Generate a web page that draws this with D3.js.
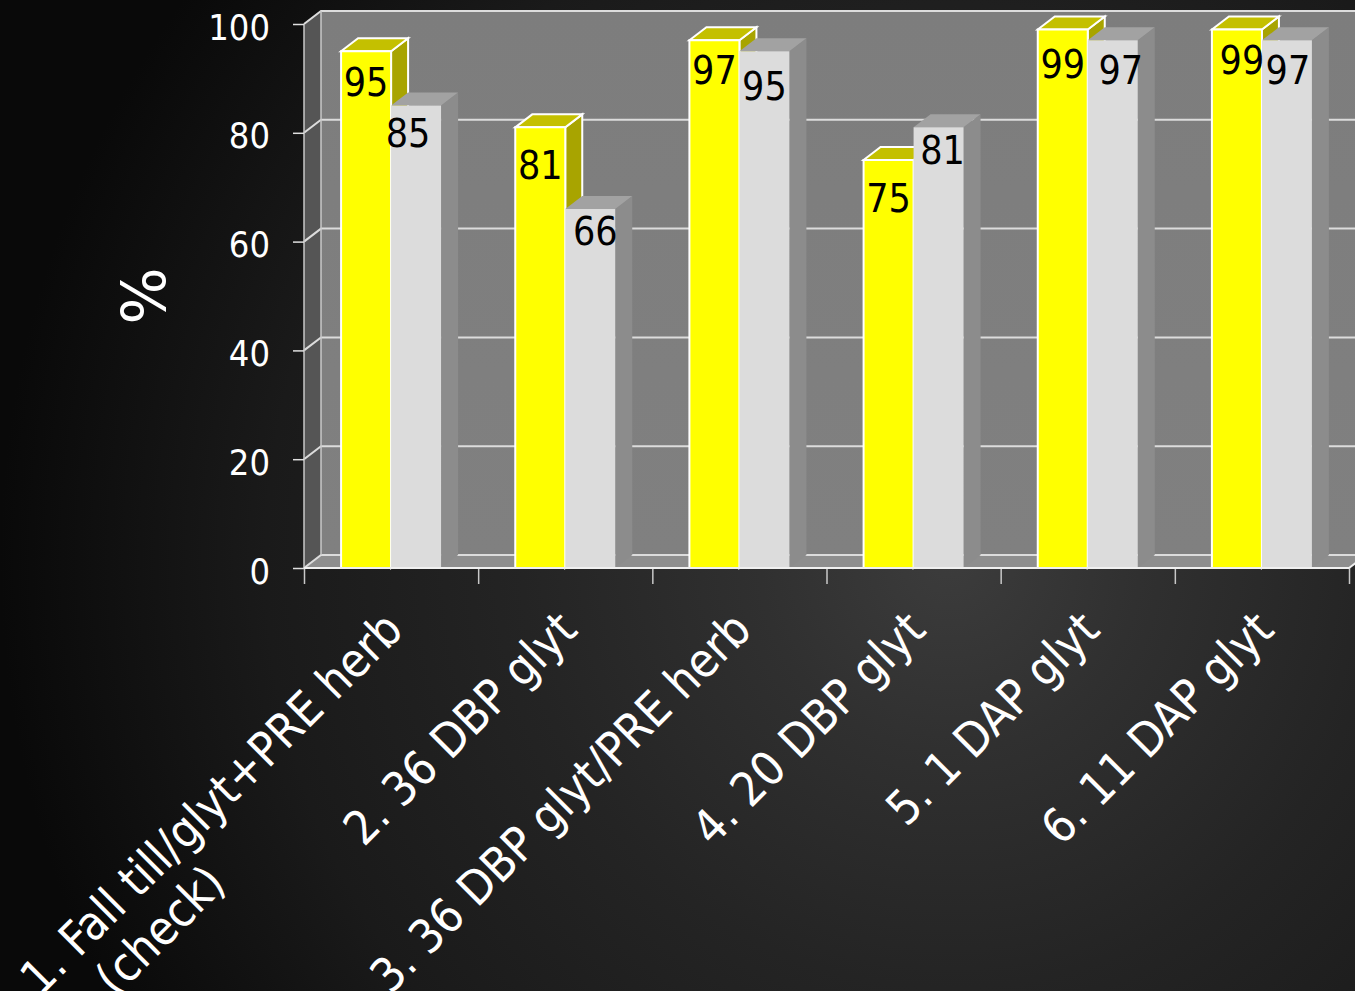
<!DOCTYPE html>
<html>
<head>
<meta charset="utf-8">
<style>
html,body{margin:0;padding:0;background:#000;overflow:hidden}
svg{display:block}
text{font-family:"DejaVu Sans Condensed","DejaVu Sans",sans-serif;font-stretch:condensed}
</style>
<script src="https://cdn.jsdelivr.net/npm/d3@7/dist/d3.min.js"></script>
</head>
<body>
<svg id="chart" width="1355" height="991"></svg>
<script>
// Chart content
const categories = ["1. Fall till/glyt+PRE herb|(check)", "2. 36 DBP glyt", "3. 36 DBP glyt/PRE herb", "4. 20 DBP glyt", "5. 1 DAP glyt", "6. 11 DAP glyt"];
const yellowValues = [95, 81, 97, 75, 99, 99];
const greyValues = [85, 66, 95, 81, 97, 97];
const yTicks = [0, 20, 40, 60, 80, 100];
const axisTitle = "%";

// Hand-placed value labels: offset from bar centre and from bar top
const yellowNudge = [[0, 31], [0, 38], [0, 30], [0, 38], [0, 35], [5, 31]];
const greyNudge = [[-8, 27], [5, 22], [0, 35], [4, 23], [8, 30], [1, 30]];

// Frame geometry
const W = 1355, H = 991;
const x0 = 304, x1 = 1349, yBase = 568, yTop = 24;
const dx = 17, dy = -13;          // oblique depth of the 3D box
const barWidth = 50;

const svg = d3.select("#chart");
const y = d3.scaleLinear().domain([0, 100]).range([yBase, yTop]);
const band = d3.scaleBand().domain(d3.range(categories.length)).range([x0, x1]);
const edge = d3.scaleLinear().domain([0, categories.length]).range([x0, x1]);

// Page background
const defs = svg.append("defs");
const bg = defs.append("radialGradient").attr("id", "bg")
  .attr("gradientUnits", "userSpaceOnUse")
  .attr("cx", 950).attr("cy", 560).attr("r", 950);
[[0, "#3c3c3c"], [0.2, "#303030"], [0.45, "#242424"], [0.72, "#1a1a1a"], [1, "#090909"]]
  .forEach(([o, c]) => bg.append("stop").attr("offset", o).attr("stop-color", c));
const wall = defs.append("linearGradient").attr("id", "wall")
  .attr("x1", 0).attr("y1", 0).attr("x2", 0).attr("y2", 1);
wall.append("stop").attr("offset", 0).attr("stop-color", "#7d7d7d");
wall.append("stop").attr("offset", 1).attr("stop-color", "#808080");
svg.append("rect").attr("width", W).attr("height", H).attr("fill", "url(#bg)");

const poly = (g, pts, fill, stroke, sw) => g.append("polygon")
  .attr("points", pts.map(p => p.join(",")).join(" "))
  .attr("fill", fill).attr("stroke", stroke || "none").attr("stroke-width", sw || 0);

// Box walls
const box = svg.append("g");
poly(box, [[x0 + dx, yTop + dy], [x1 + dx, yTop + dy], [x1 + dx, yBase + dy], [x0 + dx, yBase + dy]], "url(#wall)");
poly(box, [[x0, yBase], [x0 + dx, yBase + dy], [x1 + dx, yBase + dy], [x1, yBase]], "#8e8e8e");
poly(box, [[x0, yTop], [x0 + dx, yTop + dy], [x0 + dx, yBase + dy], [x0, yBase]], "#555555");

// Grid lines run along the side wall and the back wall
const grid = svg.append("g").attr("fill", "none").attr("stroke", "#dcdcdc").attr("stroke-width", 2);
grid.selectAll("path").data(yTicks).join("path")
  .attr("d", d => `M${x0},${y(d)}L${x0 + dx},${y(d) + dy}L${x1 + dx},${y(d) + dy}`);
grid.append("path").attr("stroke-width", 1.5).attr("stroke", "#c8c8c8")
  .attr("d", `M${x0 + dx},${yBase + dy}V${yTop + dy}`);
grid.append("path").attr("stroke-width", 1.5).attr("stroke", "#c8c8c8")
  .attr("d", `M${x0},${yBase}V${yTop}`);

// Axes
const yAxis = d3.axisLeft(y).tickValues(yTicks).tickSize(11).tickPadding(23);
const yG = svg.append("g").attr("transform", `translate(${x0},0)`).call(yAxis);
yG.select(".domain").remove();
yG.selectAll("line").attr("stroke", "#e0e0e0").attr("stroke-width", 1.5);
yG.selectAll("text").attr("fill", "#fff").attr("font-size", 36)
  .attr("font-family", null).attr("dy", "0.42em");

const xAxis = d3.axisBottom(edge).tickValues(d3.range(categories.length + 1)).tickSize(16).tickFormat("");
const xG = svg.append("g").attr("transform", `translate(0,${yBase})`).call(xAxis);
xG.select(".domain").remove();
xG.selectAll("line").attr("stroke", "#c8c8c8").attr("stroke-width", 1.5);

// One oblique bar: front face, top face, side face
function bar(g, left, value, faces) {
  const t = y(value), r = left + barWidth;
  poly(g, [[r, t], [r + dx, t + dy], [r + dx, yBase + dy], [r, yBase]], faces.side, faces.edge, faces.sw);
  poly(g, [[left, t], [left + dx, t + dy], [r + dx, t + dy], [r, t]], faces.top, faces.edge, faces.sw);
  poly(g, [[left, t], [r, t], [r, yBase], [left, yBase]], faces.front, faces.edge, faces.sw);
}
const yellowFaces = { front: "#ffff00", top: "#c4c000", side: "#a8a400", edge: "#ffffff", sw: 2 };
const greyFaces = { front: "#dcdcdc", top: "#a2a2a2", side: "#8c8c8c", edge: "none", sw: 0 };

const bars = svg.append("g");
const labels = svg.append("g").attr("text-anchor", "middle").attr("fill", "#000").attr("font-size", 39);
categories.forEach((c, i) => {
  const groupLeft = band(i) + (band.bandwidth() - 2 * barWidth) / 2;
  bar(bars, groupLeft, yellowValues[i], yellowFaces);
  bar(bars, groupLeft + barWidth, greyValues[i], greyFaces);
  labels.append("text").text(yellowValues[i])
    .attr("x", groupLeft + barWidth / 2 + yellowNudge[i][0])
    .attr("y", y(yellowValues[i]) + yellowNudge[i][1]).attr("dy", "0.36em");
  labels.append("text").text(greyValues[i])
    .attr("x", groupLeft + barWidth * 1.5 + greyNudge[i][0])
    .attr("y", y(greyValues[i]) + greyNudge[i][1]).attr("dy", "0.36em");
});

// Baseline drawn over the bar feet
svg.append("line").attr("x1", x0).attr("x2", x1).attr("y1", yBase).attr("y2", yBase)
  .attr("stroke", "#f0f0f0").attr("stroke-width", 2);
svg.append("line").attr("x1", x1).attr("x2", x1 + dx).attr("y1", yBase).attr("y2", yBase + dy)
  .attr("stroke", "#f0f0f0").attr("stroke-width", 2);

// Slanted category labels, ending under each group
const cats = svg.append("g").attr("fill", "#fff").attr("font-size", 47.5).attr("text-anchor", "end");
categories.forEach((c, i) => {
  const anchorX = band(i) + band.bandwidth() / 2 - 10;
  const t = cats.append("text").attr("transform", `translate(${anchorX},608) rotate(-45)`);
  c.split("|").forEach((line, k) => {
    t.append("tspan").attr("x", k ? -305 : 0).attr("dy", k ? "1.13em" : "0.72em").text(line);
  });
});

// Value axis title
svg.append("text").text(axisTitle)
  .attr("transform", "translate(143,296) rotate(-90)")
  .attr("text-anchor", "middle").attr("dy", "0.36em")
  .attr("fill", "#fff").attr("font-size", 60)
  .style("font-family", '"DejaVu Sans"').style("font-stretch", "normal");
</script>
</body>
</html>
